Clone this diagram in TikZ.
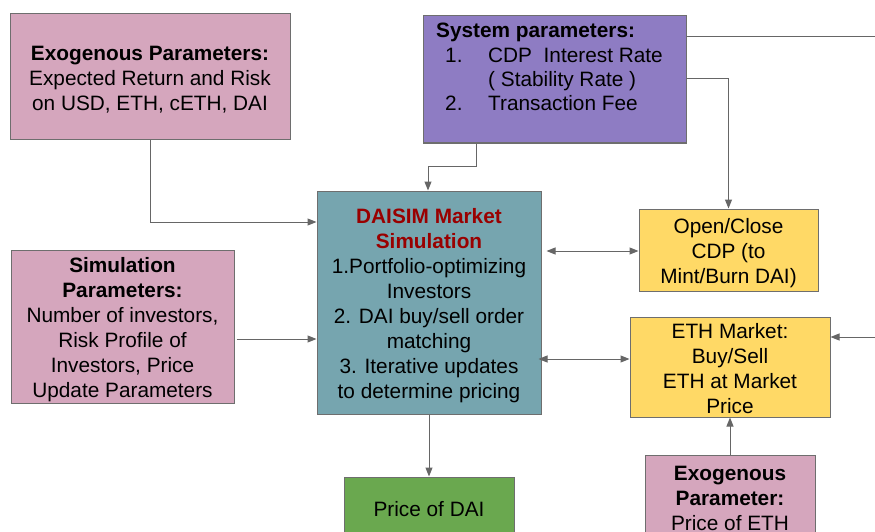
\documentclass[tikz,border=0pt]{standalone}
\usepackage{fontspec}
\setmainfont{Liberation Sans}
\usetikzlibrary{arrows.meta}
\definecolor{pinkc}{HTML}{D5A6BD}
\definecolor{purplec}{HTML}{8E7CC3}
\definecolor{tealc}{HTML}{76A5AF}
\definecolor{yellowc}{HTML}{FFD966}
\definecolor{greenc}{HTML}{6AA84F}
\definecolor{bordc}{HTML}{6E6E6E}
\definecolor{linec}{HTML}{666666}
\definecolor{titlered}{HTML}{990000}
\begin{document}
\begin{tikzpicture}[x=1pt,y=-1pt,
  box/.style={draw=bordc, line width=1pt, inner sep=0pt},
  txt/.style={inner sep=0pt, align=center, font=\fontsize{20.8}{25}\selectfont},
  tip/.tip={Triangle[width=7pt,length=9pt]},
  conn/.style={draw=linec, line width=1pt, -tip},
  twoway/.style={draw=linec, line width=1pt, tip-tip},
  plain/.style={draw=linec, line width=1pt}]
\useasboundingbox (0,0) rectangle (875,532);
\clip (0,0) rectangle (875,532);

% boxes
\node[box, fill=pinkc, minimum width=280pt, minimum height=126pt] (exo1) at (150,77) {};
\node[box, fill=purplec, minimum width=263pt, minimum height=127pt] (sys) at (554.5,79.5) {};
\node[box, fill=tealc, minimum width=224pt, minimum height=223pt] (daisim) at (429,302.5) {};
\node[box, fill=pinkc, minimum width=223pt, minimum height=153pt] (simp) at (122.5,326.5) {};
\node[box, fill=yellowc, minimum width=179pt, minimum height=82pt] (cdp) at (728.5,250) {};
\node[box, fill=yellowc, minimum width=200pt, minimum height=100pt] (eth) at (730,367) {};
\node[box, fill=greenc, minimum width=170pt, minimum height=63pt] (pdai) at (429,508.5) {};
\node[box, fill=pinkc, minimum width=170pt, minimum height=85pt] (exo2) at (730,497.5) {};

% texts
\node[txt] (exo1t) at ([yshift=-3pt]exo1.center)
  {\textbf{Exogenous Parameters:}\\Expected Return and Risk\\on USD, ETH, cETH, DAI};
\node[anchor=north west, inner sep=0pt, align=left,
  font=\fontsize{20.8}{24.4}\selectfont] (systext) at (436,23)
  {\textbf{System parameters:}\\
   \hspace*{9pt}\makebox[43pt][l]{1.}CDP\ \ Interest Rate\\
   \hspace*{9pt}\makebox[43pt][l]{}( Stability Rate )\\
   \hspace*{9pt}\makebox[43pt][l]{2.}Transaction Fee};
\node[txt] (daisimt) at ([yshift=-3pt]daisim.center)
  {\textcolor{titlered}{\textbf{DAISIM Market}}\\\textcolor{titlered}{\textbf{Simulation}}\\
   1.Portfolio-optimizing\\Investors\\2. DAI buy/sell order\\matching\\
   3. Iterative updates\\to determine pricing};
\node[txt] (simpt) at ([yshift=-3.5pt]simp.center)
  {\textbf{Simulation}\\\textbf{Parameters:}\\Number of investors,\\Risk Profile of\\
   Investors, Price\\Update Parameters};
\node[txt] (cdpt) at ([yshift=-3pt]cdp.center)
  {Open/Close\\CDP (to\\Mint/Burn DAI)};
\node[txt] (etht) at ([yshift=-2pt]eth.center)
  {ETH Market:\\Buy/Sell\\ETH at Market\\Price};
\node[txt] (pdait) at ([yshift=-1pt]pdai.center) {Price of DAI};
\node[txt] (exo2t) at ([yshift=-0.5pt]exo2.center)
  {\textbf{Exogenous}\\\textbf{Parameter:}\\Price of ETH};

% connectors
\draw[conn] (exo1.south) |- ([yshift=80.5pt]daisim.west);
\draw[conn] ([xshift=-78.5pt]sys.south) -- ++(0,23) -| ([xshift=-1pt]daisim.north);
\coordinate (sysout) at (877,37);
\draw[plain] ([yshift=42.5pt]sys.east) -- (sysout);
\draw[conn] ([yshift=0.5pt]sys.east) -| (cdp.north);
\draw[conn] ([yshift=-12.5pt,xshift=2pt]simp.east) -- ([yshift=-12.5pt]simp.east -| daisim.west);
\coordinate (cdpin) at ([yshift=-1pt]cdp.west);
\draw[twoway, shorten <=5pt] (daisim.east |- cdpin) -- (cdpin);
\coordinate (ethin) at ([yshift=8pt]eth.west);
\draw[twoway, shorten <=-3pt] (daisim.east |- ethin) -- (ethin);
\coordinate (ethext) at (877,337);
\draw[conn] (ethext) -- (eth.east |- ethext);
\draw[conn] (exo2.north) -- (eth.south);
\draw[conn] (daisim.south) -- (pdai.north);
\end{tikzpicture}
\end{document}
